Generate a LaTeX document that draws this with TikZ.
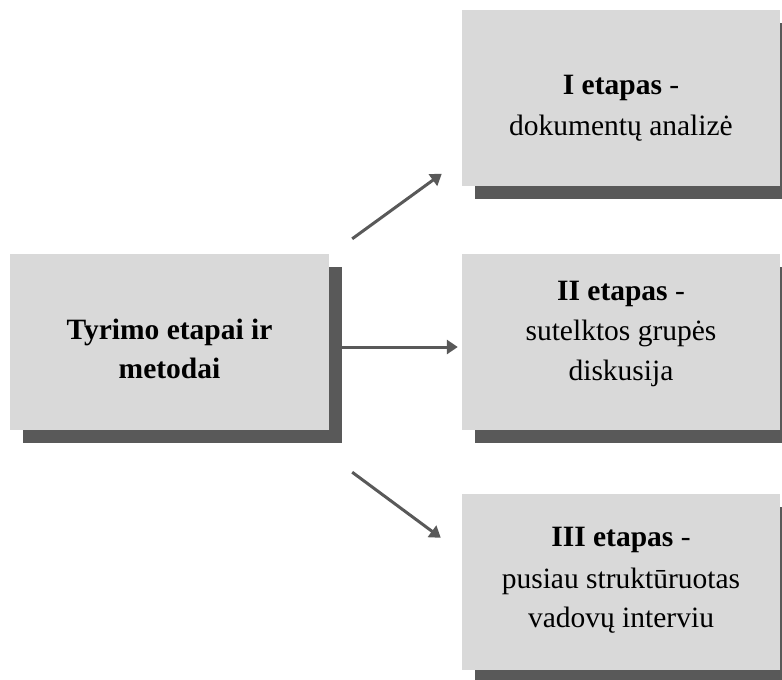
\documentclass[tikz,border=0pt]{standalone}
\usepackage{fontspec}
\setmainfont{Liberation Serif}
\usetikzlibrary{arrows.meta,shadows}
\definecolor{boxfill}{HTML}{D9D9D9}
\definecolor{shadowc}{HTML}{595959}
\begin{document}
\begin{tikzpicture}[x=1pt,y=-1pt,
  stagebox/.style={rectangle,fill=boxfill,draw=none,inner sep=0pt,
    minimum width=318pt,minimum height=176pt,
    drop shadow={shadow xshift=13pt,shadow yshift=-13pt,fill=shadowc,opacity=1}},
  txt/.style={inner sep=0pt,align=center,text=black},
  arr/.style={draw=shadowc,line width=3pt,-{Triangle[length=11pt,width=14pt]}}]
\useasboundingbox (0,0) rectangle (782,680);
\node[stagebox,minimum width=319pt] (L) at (169.5,342) {};
\node[stagebox] (A) at (621,97.5) {};
\node[stagebox] (B) at (621,342) {};
\node[stagebox] (C) at (621,582) {};
\node[txt,font=\fontsize{29.5}{39}\selectfont\bfseries] (Lt) at ([yshift=-6.5pt]L.center) {Tyrimo etapai ir\\metodai};
\node[txt,font=\fontsize{29.5}{41}\selectfont] (At) at ([yshift=-10.5pt]A.center) {\textbf{I etapas} -\\dokumentų analizė};
\node[txt,font=\fontsize{29.5}{40}\selectfont] (Bt) at ([yshift=8.5pt]B.center) {\textbf{II etapas} -\\sutelktos grupės\\diskusija};
\node[txt,font=\fontsize{29.5}{39}\selectfont] (Ct) at ([yshift=1.5pt]C.center) {\textbf{III etapas} -\\[3pt]pusiau struktūruotas\\vadovų interviu};
\draw[arr] ([shift={(23,-15)}]L.north east) -- ([shift={(-20,-12)}]A.south west);
\draw[arr] ([shift={(13,5)}]L.east) -- ([shift={(-4,5)}]B.west);
\draw[arr] ([shift={(23,42)}]L.south east) -- ([shift={(-21,44)}]C.north west);
\end{tikzpicture}
\end{document}
